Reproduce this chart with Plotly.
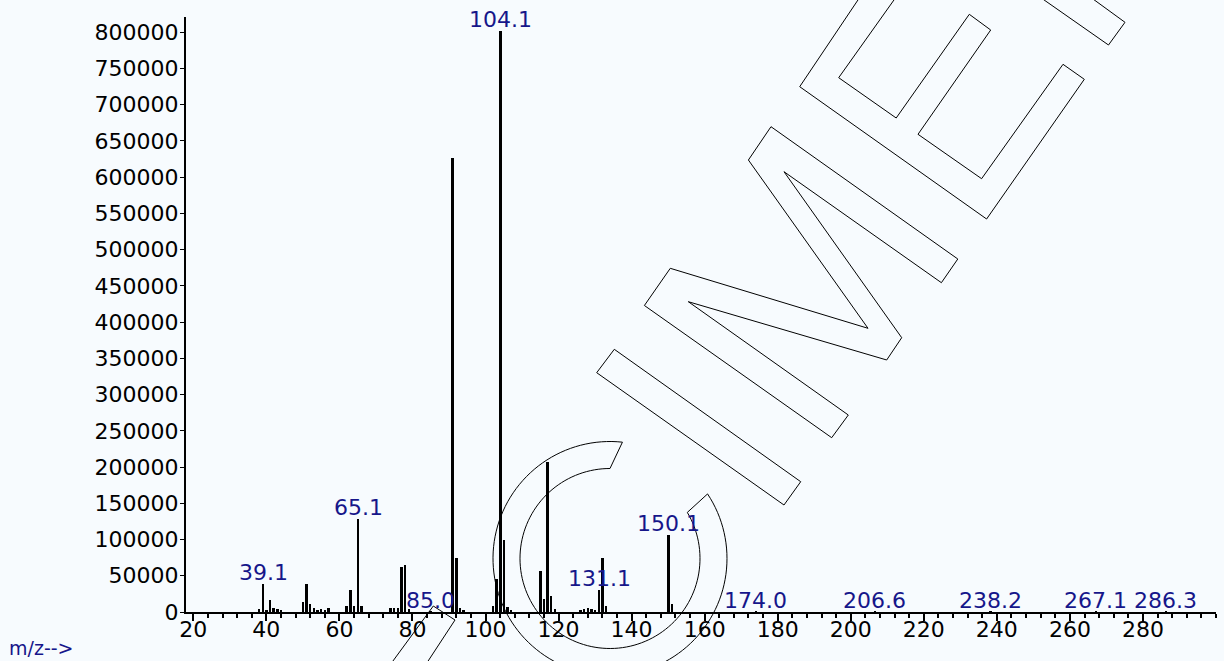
import math
import plotly.graph_objects as go

# ---------------- data ----------------
mz = [38, 39.1, 40, 41, 42, 43, 44, 50, 51, 52, 53, 54, 55, 56, 57,
      62, 63, 64, 65.1, 66, 74, 75, 76, 77, 78, 79, 85.0,
      91, 92, 93, 94, 102, 103, 104.1, 105, 106, 107,
      115, 116, 117, 118, 119, 126, 127, 128, 129, 130, 131.1, 132, 133,
      150.1, 151, 174.0, 206.6, 238.2, 267.1, 286.3]
abundance = [3500, 39000, 3000, 17000, 5000, 3500, 2500, 14000, 39000, 11500, 6000, 3000, 3500, 2500, 5000,
             8000, 31000, 8500, 128000, 8000, 5000, 5500, 5000, 62000, 65000, 4000, 600,
             626000, 75000, 6000, 3000, 7800, 46000, 801000, 99000, 7000, 3000,
             56000, 18500, 207000, 22000, 4000, 2500, 3500, 5000, 4500, 3000, 31000, 75000, 8000,
             106000, 11500, 600, 500, 500, 500, 500]
labeled_mz = [39.1, 65.1, 85.0, 104.1, 131.1, 150.1, 174.0, 206.6, 238.2, 267.1, 286.3]
x_ticks = list(range(20, 300, 20))
y_ticks = list(range(0, 800001, 50000))

# ---------------- layout geometry ----------------
W, H = 1224, 661
L, R, T, B = 186, 8, 17, 49
X_RANGE = [18, 300]
Y_RANGE = [0, 821000]
BG = "#f7fbfe"
NAVY = "#16168a"
FONT = "DejaVu Sans"

pw = W - L - R
ph = H - T - B


def px2paper(px, py):
    return (px - L) / pw, (H - B - py) / ph


def path_from(points, close=False):
    parts = []
    for i, (px, py) in enumerate(points):
        x, y = px2paper(px, py)
        parts.append(("M" if i == 0 else "L") + f"{x:.5f},{y:.5f}")
    if close:
        parts.append("Z")
    return " ".join(parts)


# watermark outlines (decorative, in pixel space)
wm_E = [(861.3, -5), (799.7, 86.7), (986.6, 219), (1084.3, 79.3), (1063, 64.3), (981.6, 178.7),
        (918, 134.3), (990.7, 30), (969.3, 14.3), (896.2, 118), (838.7, 77.7), (897.5, -5)]
wm_T = [(1037, -5), (1108.5, 45), (1125, 22.3), (1087.5, -5)]
wm_M = [(831.7, 437.7), (644.4, 305.5), (670.3, 268.3), (868, 328.3), (748.4, 160), (771, 126.7),
        (957.8, 259), (941.4, 282.7), (784, 171.7), (901.7, 337.7), (886.7, 360), (688.3, 301.7),
        (848.3, 415)]
wm_I = [(614.3, 349.3), (596.7, 372.7), (784, 505), (800.7, 481.7)]
wm_slash = [(390, 665), (433.3, 606), (455, 620), (425.5, 665)]

cx, cy, r_out, r_in = 610, 558.5, 117, 90
a0, a1 = -83.9, -393.5
b0, b1 = -390.8, -90
wm_C = []
n = 120
for k in range(n + 1):
    a = math.radians(a0 + (a1 - a0) * k / n)
    wm_C.append((cx + r_out * math.cos(a), cy + r_out * math.sin(a)))
for k in range(n + 1):
    a = math.radians(b0 + (b1 - b0) * k / n)
    wm_C.append((cx + r_in * math.cos(a), cy + r_in * math.sin(a)))

shapes = []
for pts, closed in [(wm_E, False), (wm_T, False), (wm_M, True), (wm_I, True), (wm_C, True), (wm_slash, False)]:
    shapes.append(dict(type="path", xref="paper", yref="paper", path=path_from(pts, closed),
                       line=dict(color="black", width=1), fillcolor="rgba(0,0,0,0)", layer="above"))

fig = go.Figure()
fig.add_trace(go.Bar(x=mz, y=abundance, width=0.68,
                     marker=dict(color="black", line=dict(width=0)), hoverinfo="x+y"))

annotations = []
for m in labeled_mz:
    ab = abundance[mz.index(m)]
    annotations.append(dict(x=m, y=ab, xref="x", yref="y", text=f"{m:.1f}", showarrow=False,
                            xanchor="center", yanchor="bottom", yshift=-3,
                            font=dict(family=FONT, size=22, color=NAVY)))
mx, my = px2paper(7, 648)
annotations.append(dict(x=mx, y=my, xref="paper", yref="paper", text="m/z-->", showarrow=False,
                        xanchor="left", yanchor="middle",
                        font=dict(family=FONT, size=19, color=NAVY)))

fig.update_layout(
    width=W, height=H,
    margin=dict(l=L, r=R, t=T, b=B, pad=0),
    paper_bgcolor=BG, plot_bgcolor=BG,
    showlegend=False, bargap=0,
    annotations=annotations, shapes=shapes,
    font=dict(family=FONT, color="black"),
)
fig.update_xaxes(range=X_RANGE, showline=True, linecolor="black", linewidth=2,
                 showgrid=False, zeroline=False, ticks="outside", ticklen=7, tickwidth=2,
                 tickcolor="black", tickmode="array", tickvals=x_ticks,
                 ticktext=[str(v) for v in x_ticks], ticklabelstandoff=-10,
                 minor=dict(tick0=20, dtick=4, ticks="outside", ticklen=4, tickwidth=2, tickcolor="black"),
                 tickfont=dict(family=FONT, size=22, color="black"))
fig.update_yaxes(range=Y_RANGE, showline=True, linecolor="black", linewidth=2,
                 showgrid=False, zeroline=False, ticks="outside", ticklen=4, tickwidth=1,
                 tickcolor="black", tickmode="array", tickvals=y_ticks,
                 ticktext=[str(v) for v in y_ticks], ticklabelstandoff=-3,
                 tickfont=dict(family=FONT, size=22, color="black"))

fig.write_html("out.html", config={"displayModeBar": False},
               post_script="document.body.style.margin='0';document.body.style.overflow='hidden';")
